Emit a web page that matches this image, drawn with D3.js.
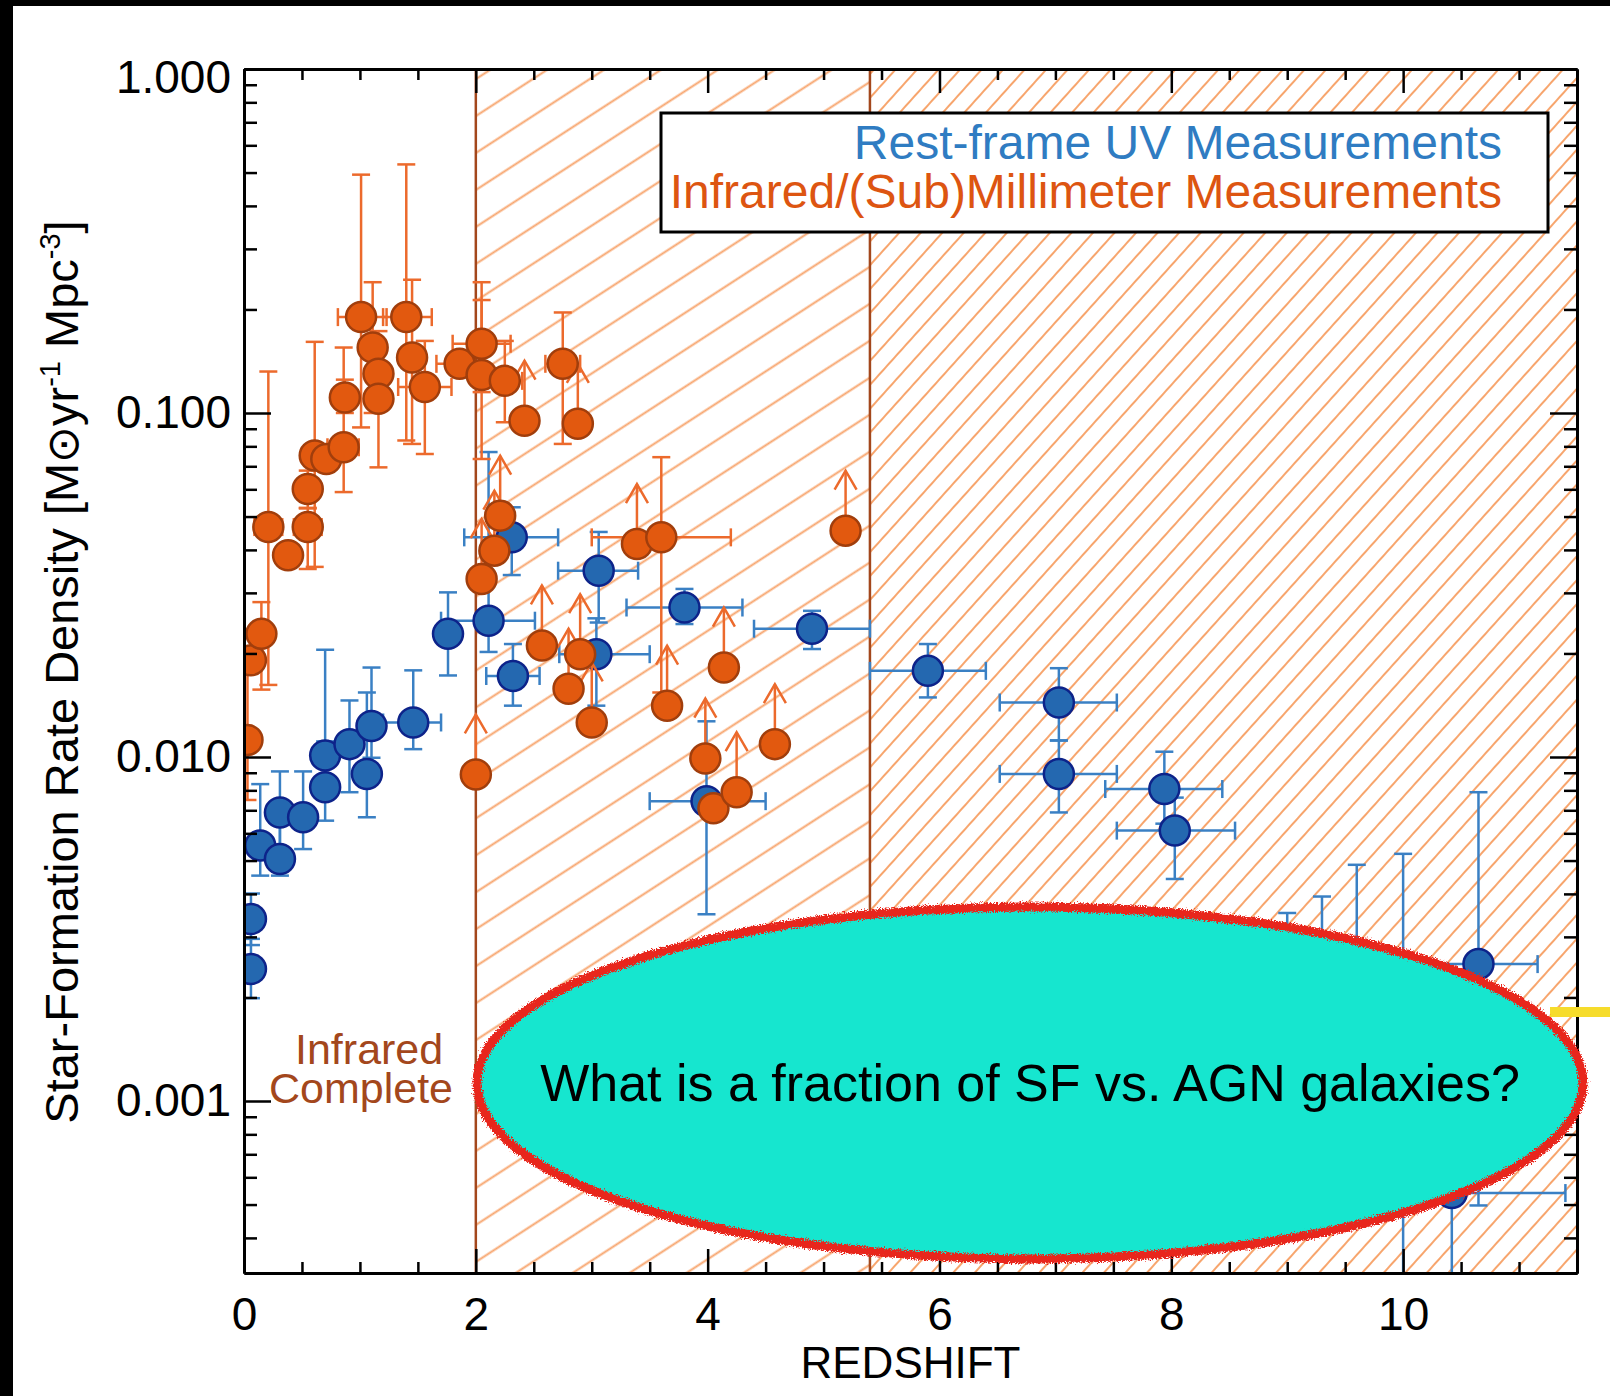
<!DOCTYPE html>
<html>
<head>
<meta charset="utf-8">
<script src="https://cdn.jsdelivr.net/npm/d3@7"></script>
<style>
  body { margin: 0; background: #fff; }
  svg { display: block; }
</style>
</head>
<body>
<script>
// ---- data ----
// rest-frame UV measurements
const uvZ      = [0.06, 0.06, 0.14, 0.31, 0.31, 0.51, 0.70, 0.70, 0.91, 1.06, 1.10, 1.46, 1.76, 2.11, 2.31, 2.32, 3.06, 3.04, 3.80, 3.99, 4.90, 5.90, 7.03, 7.03, 7.94, 8.03, 9.00, 9.30, 9.60, 10.00, 10.65, 10.42];
const uvRate   = [0.00338, 0.00242, 0.00553, 0.0069, 0.00505, 0.00668, 0.0101, 0.00817, 0.0109, 0.00893, 0.0123, 0.0126, 0.0228, 0.0249, 0.0435, 0.0172, 0.0348, 0.0199, 0.0272, 0.00744, 0.0236, 0.0178, 0.0144, 0.00893, 0.00807, 0.00611, 0.0016, 0.0015, 0.0013, 0.0011, 0.0025, 0.00054];
const uvZLo    = [0.06, 0.06, 0.14, 0.31, 0.31, 0.51, 0.70, 0.70, 0.91, 1.06, 1.10, 1.20, 1.76, 1.70, 1.90, 2.09, 2.71, 2.72, 3.30, 3.50, 4.40, 5.40, 6.52, 6.52, 7.43, 7.53, 9.00, 9.30, 9.60, 10.00, 10.14, 9.45];
const uvZHi    = [0.06, 0.06, 0.14, 0.31, 0.31, 0.51, 0.70, 0.70, 0.91, 1.06, 1.10, 1.70, 1.76, 2.51, 2.71, 2.55, 3.40, 3.50, 4.30, 4.50, 5.40, 6.40, 7.53, 7.53, 8.44, 8.55, 9.00, 9.30, 9.60, 10.00, 11.16, 11.40];
const uvRateLo = [0.00284, 0.00199, 0.00452, 0.00522, 0.00452, 0.0054, 0.0079, 0.00653, 0.0079, 0.00668, 0.00995, 0.01054, 0.01726, 0.0202, 0.0338, 0.0141, 0.0246, 0.0141, 0.02435, 0.00349, 0.0206, 0.0149, 0.01117, 0.0069, 0.0064, 0.00442, 0.0007, 0.0006, 0.0005, 0.0001, 0.000497, 0.0001];
const uvRateHi = [0.00401, 0.00296, 0.00834, 0.00908, 0.0064, 0.00908, 0.0205, 0.0111, 0.0146, 0.0154, 0.0182, 0.01786, 0.0301, 0.077, 0.0532, 0.0213, 0.0451, 0.0253, 0.0308, 0.0127, 0.0266, 0.0213, 0.01812, 0.01117, 0.01036, 0.00762, 0.00352, 0.00393, 0.00486, 0.00523, 0.0079, 0.0006];

// infrared / (sub)millimeter measurements (limit = 1 -> lower limit arrow)
const irZ      = [0.03, 0.06, 0.15, 0.21, 0.38, 0.55, 0.55, 0.61, 0.71, 0.86, 0.87, 1.01, 1.11, 1.16, 1.16, 1.40, 1.45, 1.56, 1.86, 2.05, 2.05, 2.25, 2.42, 2.75, 2.88, 2.00, 2.05, 2.16, 2.21, 2.57, 2.90, 2.80, 3.00, 3.39, 3.60, 3.65, 4.14, 3.98, 4.05, 4.25, 4.58, 5.19];
const irRate   = [0.0112, 0.0191, 0.0228, 0.0466, 0.0386, 0.0466, 0.0601, 0.0752, 0.0735, 0.0795, 0.111, 0.190, 0.155, 0.130, 0.110, 0.190, 0.145, 0.119, 0.139, 0.159, 0.129, 0.124, 0.095, 0.139, 0.093, 0.0089, 0.0329, 0.0398, 0.0503, 0.0211, 0.0199, 0.0158, 0.0126, 0.0416, 0.0435, 0.0141, 0.0182, 0.0099, 0.0071, 0.0079, 0.0109, 0.0455];
const irZLo    = [0.03, 0.06, 0.05, 0.09, 0.38, 0.43, 0.55, 0.61, 0.61, 0.72, 0.87, 0.81, 1.11, 1.16, 1.16, 1.20, 1.45, 1.33, 1.66, 1.80, 2.05, 2.10, 2.42, 2.60, 2.88, 2.00, 2.05, 2.16, 2.21, 2.57, 2.90, 2.80, 3.00, 3.39, 3.00, 3.65, 4.14, 3.98, 4.05, 4.25, 4.58, 5.19];
const irZHi    = [0.03, 0.06, 0.25, 0.33, 0.38, 0.67, 0.55, 0.61, 0.81, 0.99, 0.87, 1.23, 1.11, 1.16, 1.16, 1.62, 1.45, 1.79, 2.06, 2.30, 2.05, 2.40, 2.42, 2.90, 2.88, 2.00, 2.05, 2.16, 2.21, 2.57, 2.90, 2.80, 3.00, 3.39, 4.20, 3.65, 4.14, 3.98, 4.05, 4.25, 4.58, 5.19];
const irRateLo = [0.0075, 0.0191, 0.0157, 0.0162, 0.0386, 0.0352, 0.053, 0.0357, 0.0735, 0.0589, 0.100, 0.0908, 0.100, 0.130, 0.0695, 0.0832, 0.0813, 0.076, 0.139, 0.115, 0.0735, 0.094, 0.095, 0.0813, 0.093, 0.0089, 0.0329, 0.0398, 0.0503, 0.0211, 0.0199, 0.0158, 0.0126, 0.0416, 0.0154, 0.0141, 0.0182, 0.0099, 0.0071, 0.0079, 0.0109, 0.0455];
const irRateHi = [0.0185, 0.0191, 0.0282, 0.132, 0.0386, 0.0528, 0.068, 0.161, 0.0735, 0.155, 0.125, 0.493, 0.240, 0.130, 0.173, 0.528, 0.244, 0.162, 0.139, 0.240, 0.213, 0.162, 0.095, 0.196, 0.093, 0.0089, 0.0329, 0.0398, 0.0503, 0.0211, 0.0199, 0.0158, 0.0126, 0.0416, 0.0744, 0.0141, 0.0182, 0.0099, 0.0071, 0.0079, 0.0109, 0.0455];
const irLimit  = [0, 0, 0, 0, 0, 0, 0, 0, 0, 0, 0, 0, 0, 0, 0, 0, 0, 0, 0, 0, 0, 0, 1, 0, 1, 1, 1, 1, 1, 1, 1, 1, 1, 1, 0, 1, 1, 1, 0, 1, 1, 1];

// region boundaries (redshift)
const irCompleteEdge = 2.0;
const hatchBreak = 5.4;

// axis labels
const xMajorTicks = [0, 2, 4, 6, 8, 10];
const yMajorTicks = [1, 0.1, 0.01, 0.001];
const legendLabels = ["Rest-frame UV Measurements", "Infrared/(Sub)Millimeter Measurements"];
const questionText = "What is a fraction of SF vs. AGN galaxies?";

const FONT = '"Liberation Sans", Arial, Helvetica, sans-serif';
const UV_FILL = "#2468b0", UV_EDGE = "#0d238a", UV_BAR = "#3a80c4";
const IR_FILL = "#e2590f", IR_EDGE = "#a13e0c", IR_BAR = "#ec6a2c";
const BROWN = "#a3471c";

(function() {

  const W = 1610, H = 1396;
  const left = 244, right = 1577, top = 69, bottom = 1273;

  const svg = d3.select("body").append("svg")
    .attr("width", W)
    .attr("height", H);

  const x = d3.scaleLinear().domain([0, 11.5]).range([left, right]);
  const y = d3.scaleLog().domain([Math.pow(10, -3.5), 1]).range([bottom, top]);

  const defs = svg.append("defs");
  defs.append("clipPath").attr("id", "plotClip")
    .append("rect")
      .attr("x", left).attr("y", top)
      .attr("width", right - left).attr("height", bottom - top);

  // hatch patterns
  function hatch(id, gap, angle) {
    const p = defs.append("pattern")
      .attr("id", id)
      .attr("patternUnits", "userSpaceOnUse")
      .attr("width", 20)
      .attr("height", gap)
      .attr("patternTransform", "rotate(" + angle + ")");
    p.append("line")
      .attr("x1", -1).attr("x2", 21)
      .attr("y1", gap / 2).attr("y2", gap / 2)
      .attr("stroke", "#f7a56d")
      .attr("stroke-width", 2);
  }
  hatch("hatchWide", 31, -33);
  hatch("hatchDense", 16, -48);

  // rough marker-like edge for the bubble
  const rough = defs.append("filter").attr("id", "rough")
    .attr("x", "-5%").attr("y", "-10%").attr("width", "110%").attr("height", "120%");
  rough.append("feTurbulence")
    .attr("type", "fractalNoise").attr("baseFrequency", 0.7)
    .attr("numOctaves", 2).attr("result", "noise");
  rough.append("feDisplacementMap")
    .attr("in", "SourceGraphic").attr("in2", "noise")
    .attr("scale", 7)
    .attr("xChannelSelector", "R").attr("yChannelSelector", "G");

  // white page and black frame
  svg.append("rect").attr("width", W).attr("height", H).attr("fill", "#fff");
  svg.append("rect").attr("x", 0).attr("y", 0).attr("width", W).attr("height", 6).attr("fill", "#000");
  svg.append("rect").attr("x", 0).attr("y", 0).attr("width", 13).attr("height", H).attr("fill", "#000");

  // hatched regions
  svg.append("rect")
    .attr("x", x(irCompleteEdge)).attr("y", top)
    .attr("width", x(hatchBreak) - x(irCompleteEdge)).attr("height", bottom - top)
    .attr("fill", "url(#hatchWide)");
  svg.append("rect")
    .attr("x", x(hatchBreak)).attr("y", top)
    .attr("width", right - x(hatchBreak)).attr("height", bottom - top)
    .attr("fill", "url(#hatchDense)");

  [irCompleteEdge, hatchBreak].forEach((z) => {
    svg.append("line")
      .attr("x1", x(z)).attr("x2", x(z))
      .attr("y1", top).attr("y2", bottom)
      .attr("stroke", BROWN)
      .attr("stroke-width", 2.5);
  });

  const plot = svg.append("g").attr("clip-path", "url(#plotClip)");

  function makeRows(zs, rates, zlo, zhi, rlo, rhi, lim) {
    return zs.map((z, i) => ({
      z: z, v: rates[i], zlo: zlo[i], zhi: zhi[i], vlo: rlo[i], vhi: rhi[i],
      limit: lim ? lim[i] : 0
    }));
  }

  const uvRows = makeRows(uvZ, uvRate, uvZLo, uvZHi, uvRateLo, uvRateHi, null);
  const irRows = makeRows(irZ, irRate, irZLo, irZHi, irRateLo, irRateHi, irLimit);

  const CAP = 9;
  const ARROW = 60;

  function drawBars(rows, color) {
    const g = plot.append("g")
      .attr("stroke", color)
      .attr("stroke-width", 2.5)
      .attr("fill", "none");
    rows.forEach((d) => {
      const cx = x(d.z), cy = y(d.v);
      if (d.zhi > d.zlo) {
        g.append("line").attr("x1", x(d.zlo)).attr("x2", x(d.zhi)).attr("y1", cy).attr("y2", cy);
        g.append("line").attr("x1", x(d.zlo)).attr("x2", x(d.zlo)).attr("y1", cy - CAP).attr("y2", cy + CAP);
        g.append("line").attr("x1", x(d.zhi)).attr("x2", x(d.zhi)).attr("y1", cy - CAP).attr("y2", cy + CAP);
      }
      if (d.vhi > d.vlo) {
        g.append("line").attr("x1", cx).attr("x2", cx).attr("y1", y(d.vlo)).attr("y2", y(d.vhi));
        g.append("line").attr("x1", cx - CAP).attr("x2", cx + CAP).attr("y1", y(d.vlo)).attr("y2", y(d.vlo));
        g.append("line").attr("x1", cx - CAP).attr("x2", cx + CAP).attr("y1", y(d.vhi)).attr("y2", y(d.vhi));
      }
      if (d.limit) {
        const tip = cy - ARROW;
        g.append("line").attr("x1", cx).attr("x2", cx).attr("y1", cy).attr("y2", tip);
        g.append("path").attr("d", "M" + (cx - 11) + "," + (tip + 19) + "L" + cx + "," + tip + "L" + (cx + 11) + "," + (tip + 19));
      }
    });
  }

  function drawPoints(rows, fill, edge) {
    plot.append("g").selectAll("circle")
      .data(rows)
      .enter()
      .append("circle")
        .attr("cx", (d) => x(d.z))
        .attr("cy", (d) => y(d.v))
        .attr("r", 15)
        .attr("fill", fill)
        .attr("stroke", edge)
        .attr("stroke-width", 2.5);
  }

  drawBars(uvRows, UV_BAR);
  drawPoints(uvRows, UV_FILL, UV_EDGE);
  drawBars(irRows, IR_BAR);
  drawPoints(irRows, IR_FILL, IR_EDGE);

  // legend
  svg.append("rect")
    .attr("x", 661).attr("y", 113)
    .attr("width", 887).attr("height", 119)
    .attr("fill", "#fff")
    .attr("stroke", "#000")
    .attr("stroke-width", 3);
  svg.append("text")
    .attr("x", 1502).attr("y", 159)
    .attr("text-anchor", "end")
    .style("font-family", FONT).style("font-size", "48px")
    .attr("fill", "#2f7cc2")
    .text(legendLabels[0]);
  svg.append("text")
    .attr("x", 1502).attr("y", 208)
    .attr("text-anchor", "end")
    .style("font-family", FONT).style("font-size", "48px")
    .attr("fill", "#dd5511")
    .text(legendLabels[1]);

  // "Infrared Complete" note
  svg.append("text")
    .attr("x", 295).attr("y", 1064)
    .style("font-family", FONT).style("font-size", "43px")
    .attr("fill", BROWN)
    .text("Infrared");
  svg.append("text")
    .attr("x", 269).attr("y", 1103)
    .style("font-family", FONT).style("font-size", "43px")
    .attr("fill", BROWN)
    .text("Complete");

  // axes
  function styleAxis(g) {
    g.attr("font-family", FONT).attr("font-size", 46);
    g.select(".domain").attr("stroke-width", 3);
    g.selectAll(".tick line").attr("stroke-width", 2.5);
    g.selectAll(".tick text").attr("fill", "#000");
  }

  const xMinor = d3.range(0.5, 11.5, 0.5).filter((v) => v % 2 !== 0);
  const yMinor = [];
  for (let e = -4; e < 0; e++) {
    for (let m = 2; m <= 9; m++) {
      const v = m * Math.pow(10, e);
      if (v > Math.pow(10, -3.5) && v < 1) yMinor.push(v);
    }
  }

  // bottom
  svg.append("g").attr("transform", "translate(0," + bottom + ")")
    .call(d3.axisBottom(x).tickValues(xMinor).tickSize(-11).tickSizeOuter(0).tickFormat(""))
    .call(styleAxis);
  svg.append("g").attr("transform", "translate(0," + bottom + ")")
    .call(d3.axisBottom(x).tickValues(xMajorTicks).tickSize(-24).tickSizeOuter(0).tickPadding(24).tickFormat(d3.format("d")))
    .call(styleAxis);
  // top
  svg.append("g").attr("transform", "translate(0," + top + ")")
    .call(d3.axisTop(x).tickValues(xMinor).tickSize(-11).tickSizeOuter(0).tickFormat(""))
    .call(styleAxis);
  svg.append("g").attr("transform", "translate(0," + top + ")")
    .call(d3.axisTop(x).tickValues(xMajorTicks).tickSize(-24).tickSizeOuter(0).tickFormat(""))
    .call(styleAxis);
  // left
  svg.append("g").attr("transform", "translate(" + left + ",0)")
    .call(d3.axisLeft(y).tickValues(yMinor).tickSize(-13).tickSizeOuter(0).tickFormat(""))
    .call(styleAxis);
  const yAxisG = svg.append("g").attr("transform", "translate(" + left + ",0)")
    .call(d3.axisLeft(y).tickValues(yMajorTicks).tickSize(-27).tickSizeOuter(0).tickPadding(13).tickFormat(d3.format(".3f")))
    .call(styleAxis);
  yAxisG.selectAll(".tick text").filter((d) => d === 1).attr("dy", "0.5em");
  // right
  svg.append("g").attr("transform", "translate(" + right + ",0)")
    .call(d3.axisRight(y).tickValues(yMinor).tickSize(-13).tickSizeOuter(0).tickFormat(""))
    .call(styleAxis);
  svg.append("g").attr("transform", "translate(" + right + ",0)")
    .call(d3.axisRight(y).tickValues(yMajorTicks).tickSize(-27).tickSizeOuter(0).tickFormat(""))
    .call(styleAxis);

  // axis titles
  svg.append("text")
    .attr("x", (left + right) / 2).attr("y", 1378)
    .attr("text-anchor", "middle")
    .style("font-family", FONT).style("font-size", "44px")
    .text("REDSHIFT");

  const yTitle = svg.append("text")
    .attr("transform", "translate(78,672)rotate(-90)")
    .attr("text-anchor", "middle")
    .style("font-family", FONT).style("font-size", "47px");
  yTitle.append("tspan").text("Star-Formation Rate Density [M");
  yTitle.append("tspan").style("font-family", '"DejaVu Sans", sans-serif').style("font-size", "44px").text("\u2299");
  yTitle.append("tspan").text("yr");
  yTitle.append("tspan").attr("dy", -18).style("font-size", "29px").text("-1");
  yTitle.append("tspan").attr("dy", 18).text(" Mpc");
  yTitle.append("tspan").attr("dy", -18).style("font-size", "29px").text("-3");
  yTitle.append("tspan").attr("dy", 18).text("]");

  // yellow marker on the right edge
  svg.append("rect")
    .attr("x", 1550).attr("y", 1007)
    .attr("width", 60).attr("height", 10)
    .attr("fill", "#f6dc2c");

  // question bubble
  svg.append("ellipse")
    .attr("cx", 1030).attr("cy", 1083)
    .attr("rx", 553).attr("ry", 176)
    .attr("fill", "#17e6cf")
    .attr("stroke", "#e8261c")
    .attr("stroke-width", 9)
    .attr("filter", "url(#rough)");
  svg.append("text")
    .attr("x", 1030).attr("y", 1101)
    .attr("text-anchor", "middle")
    .style("font-family", FONT).style("font-size", "52px")
    .attr("fill", "#000")
    .text(questionText);

})();
</script>
</body>
</html>
